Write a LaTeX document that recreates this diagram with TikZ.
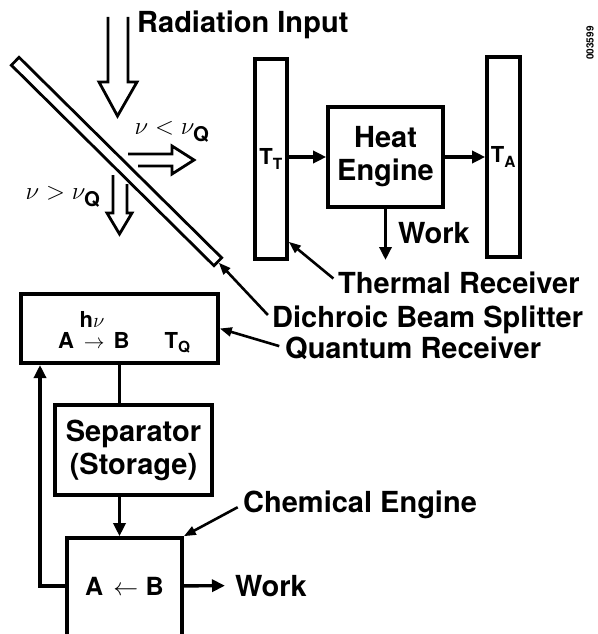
\documentclass[tikz,border=0pt]{standalone}
\usepackage{amsmath}
\usepackage{fontspec}
\setmainfont{TeX Gyre Heros}
\usetikzlibrary{arrows.meta}

\begin{document}
\begin{tikzpicture}[x=1pt, y=-1pt,
		box/.style={draw, line width=3.6pt, inner sep=0pt},
		lbl/.style={font=\bfseries\fontsize{29}{33}\selectfont, inner sep=0pt},
		sym/.style={font=\bfseries\fontsize{22}{24}\selectfont, inner sep=0pt},
		arr/.style={line width=3.4pt, -{Triangle[length=13pt, width=12pt]}},
		ptr/.style={line width=2.6pt, shorten <=6pt, -{Triangle[length=12pt, width=9pt]}},
		hollow/.style={line width=2.8pt, fill=white, line join=miter}]
		\useasboundingbox (0,0) rectangle (597,634);
		\clip (0,0) rectangle (597,634);
		% incoming radiation
		\draw [hollow] (108,17) -- (108,82) -- (99,82) -- (117.5,116) -- (137,82) -- (128,82) -- (128,17);
		\node [lbl, anchor=base west] (radin) at (137,33) {Radiation Input};
		\node [rotate=90, font=\bfseries\fontsize{10}{10}\selectfont, inner sep=0pt] (figid) at (590,43) {003599};
		% the tilted splitter slab
		\node [draw, line width=2.8pt, fill=white, minimum width=285pt, minimum height=11pt, rotate=-44.7] (split) at (116.5,161.5) {};
		% transmitted and reflected parts
		\draw [hollow] (128,154) -- (172,154) -- (172,146) -- (194,160) -- (172,174) -- (172,166) -- (138,166);
		\node [font=\fontsize{29}{33}\selectfont] (lownu) at (172,132) {$\nu < \nu_{\textbf{Q}}$};
		\draw [hollow] (113,175) -- (113,213) -- (107,213) -- (119.5,234) -- (132,213) -- (127,213) -- (127,184);
		\node [font=\fontsize{29}{33}\selectfont] (highnu) at (63,197) {$\nu > \nu_{\textbf{Q}}$};
		% thermal branch
		\node [box, sym, minimum width=32pt, minimum height=200pt] (recvT) at (271,159) {T\textsubscript{T}};
		\node [box, lbl, minimum width=115pt, minimum height=100pt, align=center] (heat) at (385.5,157) {Heat\\Engine};
		\node [box, sym, minimum width=33pt, minimum height=200pt] (recvA) at (503.5,157) {T\textsubscript{A}};
		\draw [arr] (recvT.east |- heat.west) -- (heat.west);
		\draw [arr] (heat.east) -- (recvA.west |- heat.east);
		\node [lbl, anchor=base west] (work1) at (398,243) {Work};
		\coordinate (w1) at (385.5,260);
		\draw [arr] (heat.south) -- (w1);
		% quantum branch
		\node [box, minimum width=197pt, minimum height=69pt] (quant) at (119.5,328.5) {};
		\node [sym, anchor=base west] (qtext) at (58,348) {A\hspace{0.45em}\makebox[0pt][l]{\hspace{-0.2em}\raisebox{0.95em}{h$\nu$}}$\rightarrow$\hspace{0.4em}B\hspace{1.6em}T\textsubscript{Q}};
		\node [box, lbl, minimum width=157pt, minimum height=90pt, align=center] (sep) at (133.5,450) {Separator\\(Storage)};
		\node [box, minimum width=115pt, minimum height=140pt] (chem) at (124.5,608) {};
		\node [sym, font=\bfseries\fontsize{25}{27}\selectfont, anchor=base west] (chemtxt) at (85,595) {A\hspace{0.4em}$\leftarrow$\hspace{0.3em}B};
		\draw [line width=3.4pt] (quant.south) -- (quant.south |- sep.north);
		\draw [arr] (quant.south |- sep.south) -- (quant.south |- chem.north);
		\coordinate (fb) at (40,365);
		\draw [arr] (chem.west |- chemtxt) -| (fb);
		\node [lbl, anchor=base west] (work2) at (235,596) {Work};
		\draw [arr, shorten >=10pt] (chem.east |- chemtxt) -- (work2.west);
		% labels with pointers
		\node [lbl, anchor=base west] (thermal) at (338,293) {Thermal Receiver};
		\node [lbl, anchor=base west] (dichro) at (272,327) {Dichroic Beam Splitter};
		\node [lbl, anchor=base west] (qlabel) at (285,358) {Quantum Receiver};
		\node [lbl, anchor=base west] (chemlbl) at (243,512) {Chemical Engine};
		\draw [ptr] (thermal.west) -- ([yshift=19pt]recvT.south east);
		\draw [ptr] (dichro.west) -- (split.east);
		\draw [ptr] (qlabel.west) -- (quant.east);
		\draw [ptr] (chemlbl.west) -- (chem.north east);
	\end{tikzpicture}
\end{document}
